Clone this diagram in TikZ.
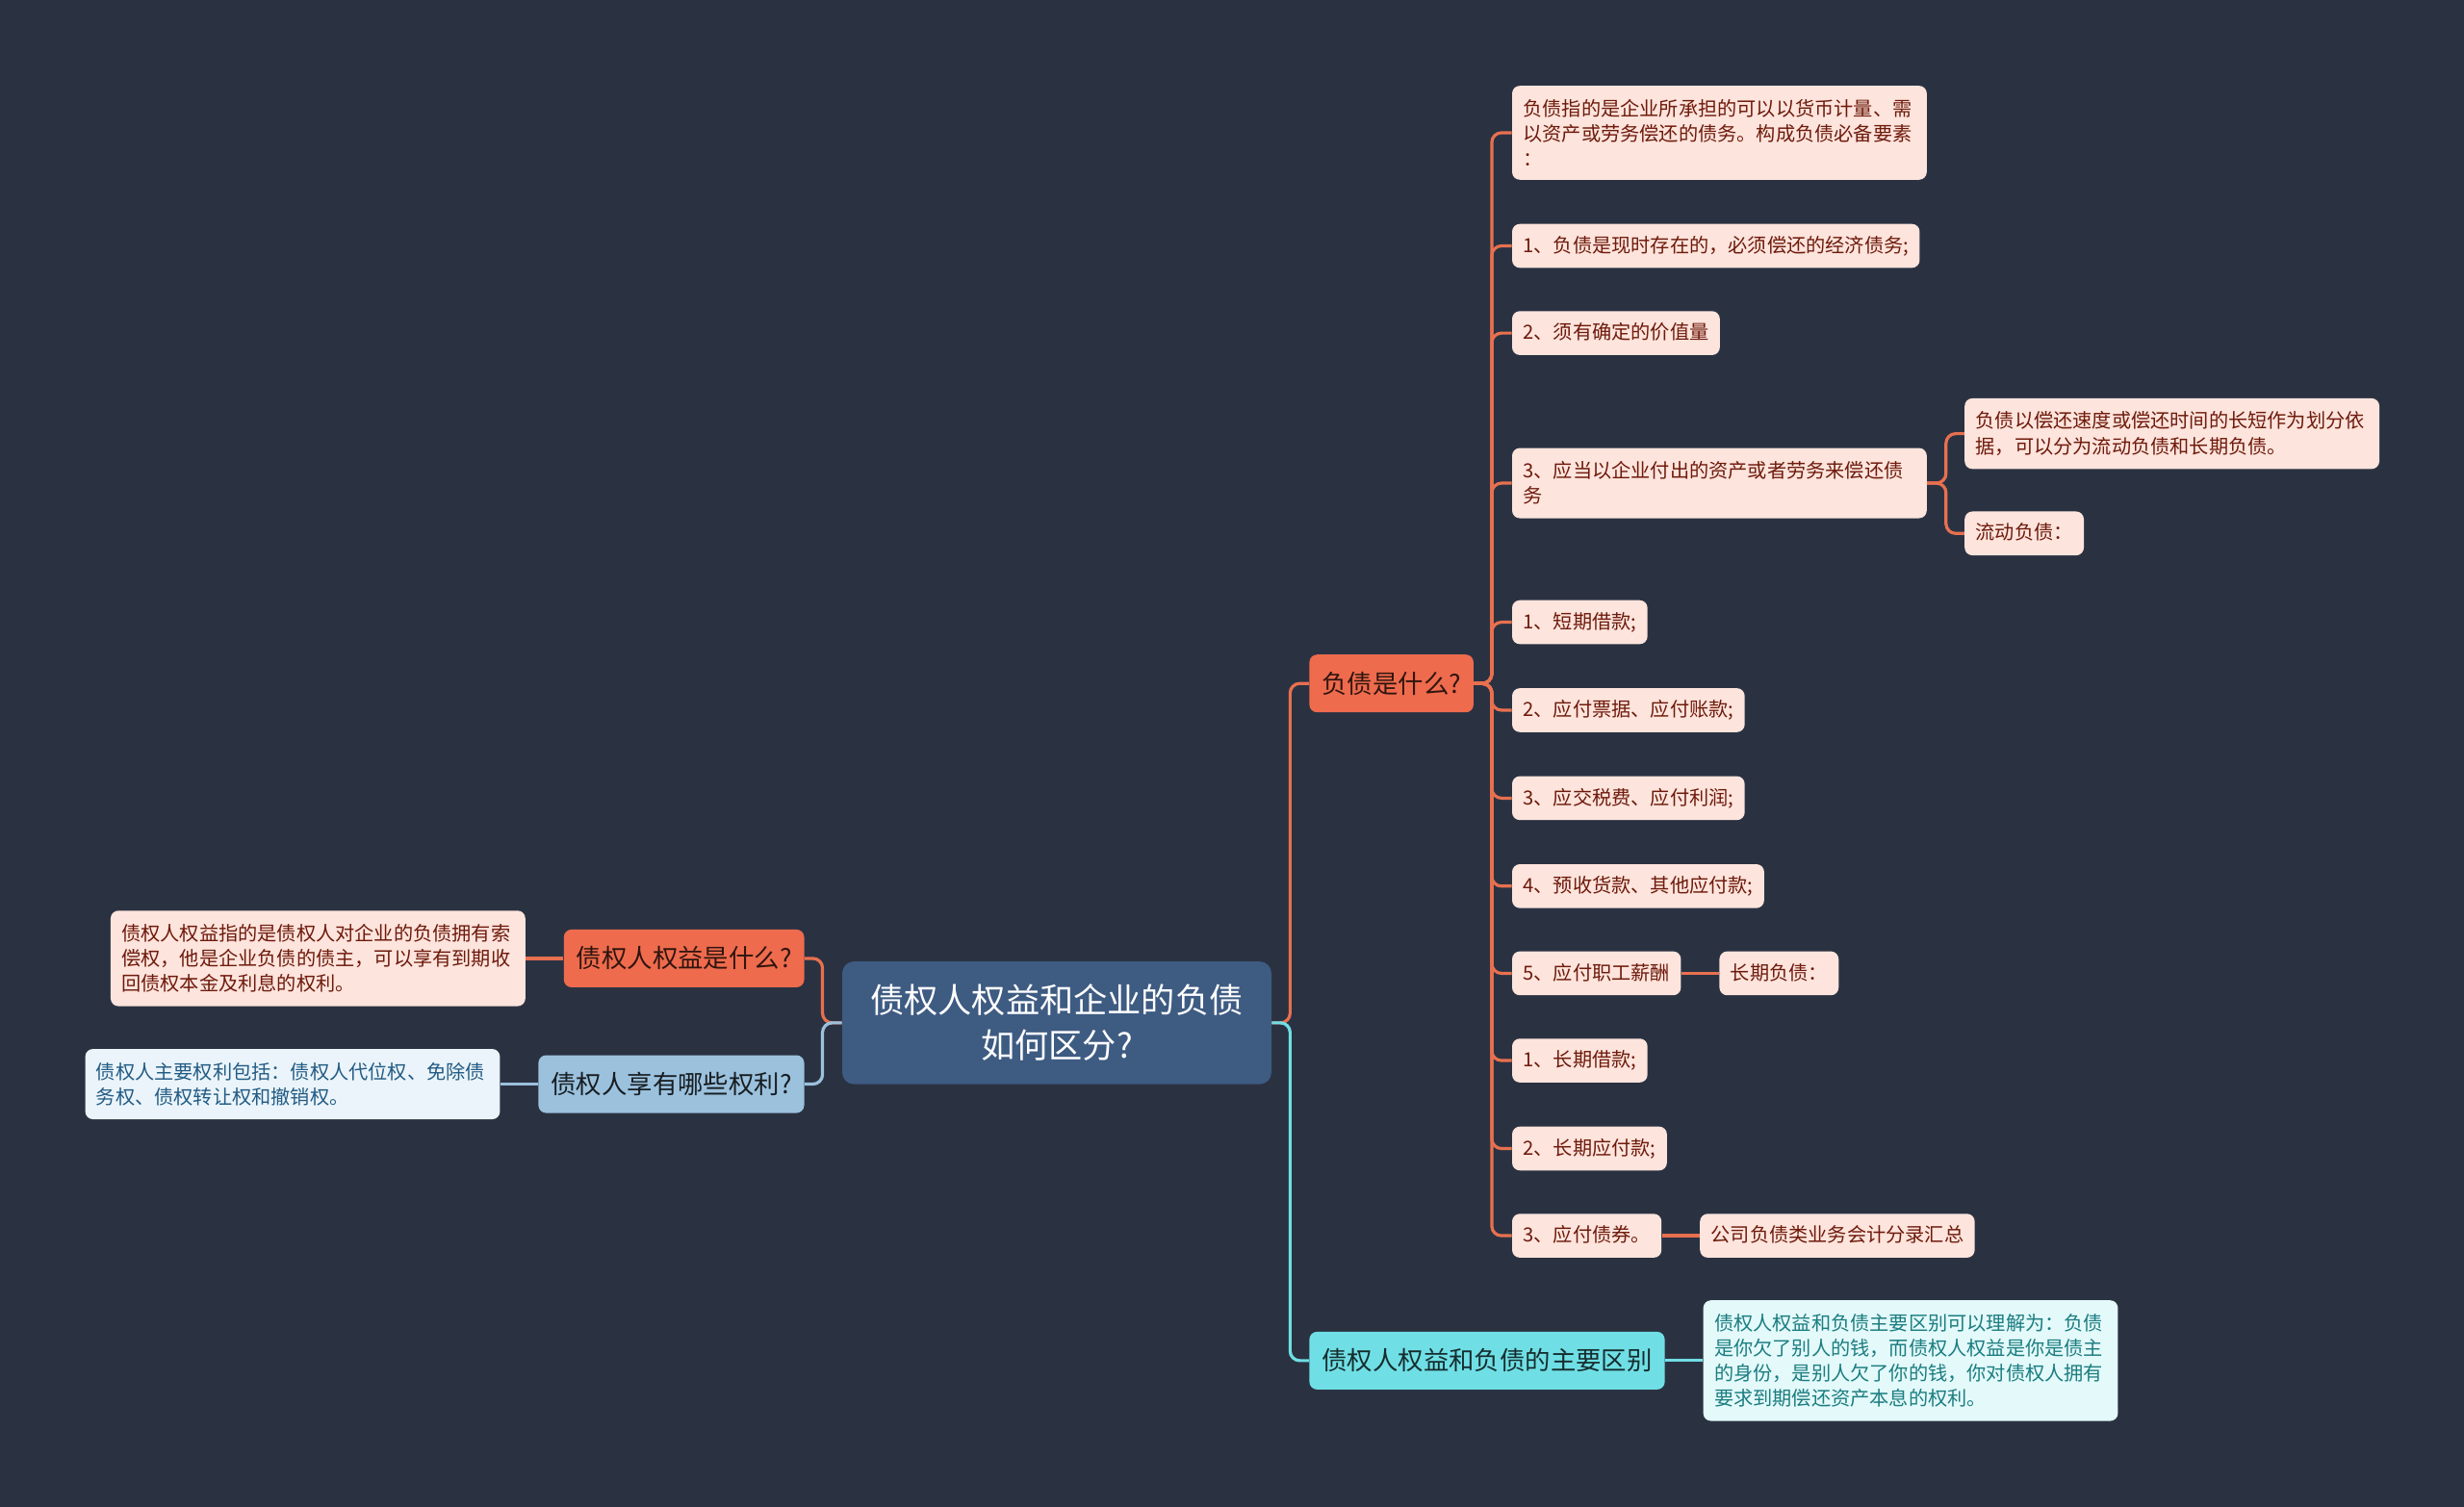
\documentclass[tikz,border=0pt]{standalone}
\usepackage{fontspec}
\usepackage{tikz}
\usepackage{xcolor}
\usetikzlibrary{positioning}
\newfontfamily\cjk{Noto Sans CJK SC}

\definecolor{bgdark}{HTML}{2A3242}
\definecolor{rootblue}{HTML}{3E5B82}
\definecolor{debtred}{HTML}{EE6B4D}
\definecolor{debtline}{HTML}{E8704F}
\definecolor{debtpale}{HTML}{FDE4DC}
\definecolor{debttext}{HTML}{6E1A0C}
\definecolor{rightblue}{HTML}{9BC1DD}
\definecolor{rightpale}{HTML}{EAF4FA}
\definecolor{righttext}{HTML}{235B84}
\definecolor{diffcyan}{HTML}{6FDFE5}
\definecolor{diffpale}{HTML}{E3F9FA}
\definecolor{difftext}{HTML}{1B7D80}

\begin{document}
\begin{tikzpicture}[x=0.8163pt, y=-0.8163pt, node distance=19.6pt,
    topic/.style={rounded corners=6pt, fill=rootblue, text=white, align=center,
        minimum width=222.9pt, minimum height=63.7pt, font=\cjk\fontsize{17.6pt}{23.5pt}\selectfont},
    branch/.style={rounded corners=4pt, minimum height=30pt, inner xsep=6.5pt,
        font=\cjk\fontsize{13.2pt}{16pt}\selectfont},
    leaf/.style={rounded corners=4pt, inner xsep=5.7pt, inner ysep=6.1pt,
        font=\cjk\fontsize{10.1pt}{13.1pt}\selectfont},
    oneline/.style={leaf, text height=8.6pt, text depth=2pt},
    para/.style={leaf, text width=204pt, align=left, inner ysep=7pt},
    redleaf/.style={fill=debtpale, text=debttext},
    link/.style={line width=1.6pt, rounded corners=5pt}]

    % Background
    \fill[bgdark] (0,0) rectangle (1568,959);
    \useasboundingbox (0,0) rectangle (1568,959);

    % Central topic
    \node[topic] (topic) at (672.5,651) {债权人权益和企业的负债\\如何区分?};

    % Left branches
    \node[branch, fill=debtred, text=black!80!debtred, anchor=east] (claim) at (512,610) {债权人权益是什么?};
    \node[branch, fill=rightblue, text=black!85!rightblue, anchor=east] (rights) at (512,690) {债权人享有哪些权利?};
    \node[para, redleaf, left=of claim] (claimtxt) {债权人权益指的是债权人对企业的负债拥有索\\偿权，他是企业负债的债主，可以享有到期收\\回债权本金及利息的权利。};
    \node[para, fill=rightpale, text=righttext, left=of rights] (rightstxt) {债权人主要权利包括：债权人代位权、免除债\\务权、债权转让权和撤销权。};

    % Right branches
    \node[branch, fill=debtred, text=black!80!debtred, anchor=west] (debt) at (833,435) {负债是什么?};
    \node[branch, fill=diffcyan, text=black!80!diffcyan, anchor=west] (diff) at (833,866) {债权人权益和负债的主要区别};
    \node[para, fill=diffpale, text=difftext, right=of diff] (difftxt) {债权人权益和负债主要区别可以理解为：负债\\是你欠了别人的钱，而债权人权益是你是债主\\的身份，是别人欠了你的钱，你对债权人拥有\\要求到期偿还资产本息的权利。};

    % What is debt
    \node[para, redleaf, anchor=west] (def) at (962,84.5) {负债指的是企业所承担的可以以货币计量、需\\以资产或劳务偿还的债务。构成负债必备要素\\：};
    \node[oneline, redleaf, anchor=west] (one) at (962,156.5) {1、负债是现时存在的，必须偿还的经济债务;};
    \node[oneline, redleaf, anchor=west] (two) at (962,212) {2、须有确定的价值量};
    \node[para, redleaf, anchor=west] (three) at (962,307.5) {3、应当以企业付出的资产或者劳务来偿还债\\务};
    \node[oneline, redleaf, anchor=west] (shortloan) at (962,396) {1、短期借款;};
    \node[oneline, redleaf, anchor=west] (notes) at (962,452) {2、应付票据、应付账款;};
    \node[oneline, redleaf, anchor=west] (taxes) at (962,508) {3、应交税费、应付利润;};
    \node[oneline, redleaf, anchor=west] (advance) at (962,564) {4、预收货款、其他应付款;};
    \node[oneline, redleaf, anchor=west] (wages) at (962,619.5) {5、应付职工薪酬};
    \node[oneline, redleaf, anchor=west] (longloan) at (962,675) {1、长期借款;};
    \node[oneline, redleaf, anchor=west] (longpay) at (962,731) {2、长期应付款;};
    \node[oneline, redleaf, anchor=west] (bonds) at (962,786.5) {3、应付债券。};

    \node[para, redleaf, anchor=west] (split) at (1250,276) {负债以偿还速度或偿还时间的长短作为划分依\\据，可以分为流动负债和长期负债。};
    \node[oneline, redleaf, anchor=west] (current) at (1250,339.5) {流动负债：};
    \node[oneline, redleaf, right=of wages] (longterm) {长期负债：};
    \node[oneline, redleaf, right=of bonds] (summary) {公司负债类业务会计分录汇总};

    % Connectors
    \draw[link, debtline] (topic.east) -- ++(11.7,0) |- (debt.west);
    \draw[link, diffcyan] (topic.east) -- ++(11.7,0) |- (diff.west);
    \draw[link, debtline] (topic.west) -- ++(-12.3,0) |- (claim.east);
    \draw[link, rightblue] (topic.west) -- ++(-12.3,0) |- (rights.east);
    \draw[link, debtline] (claim.west) -- (claimtxt.east);
    \draw[link, rightblue] (rights.west) -- (rightstxt.east);
    \draw[link, diffcyan] (diff.east) -- (difftxt.west);

    \draw[link, debtline] (debt.east) -- ++(11.4,0) |- (def.west);
    \draw[link, debtline] (debt.east) -- ++(11.4,0) |- (one.west);
    \draw[link, debtline] (debt.east) -- ++(11.4,0) |- (two.west);
    \draw[link, debtline] (debt.east) -- ++(11.4,0) |- (three.west);
    \draw[link, debtline] (debt.east) -- ++(11.4,0) |- (shortloan.west);
    \draw[link, debtline] (debt.east) -- ++(11.4,0) |- (notes.west);
    \draw[link, debtline] (debt.east) -- ++(11.4,0) |- (taxes.west);
    \draw[link, debtline] (debt.east) -- ++(11.4,0) |- (advance.west);
    \draw[link, debtline] (debt.east) -- ++(11.4,0) |- (wages.west);
    \draw[link, debtline] (debt.east) -- ++(11.4,0) |- (longloan.west);
    \draw[link, debtline] (debt.east) -- ++(11.4,0) |- (longpay.west);
    \draw[link, debtline] (debt.east) -- ++(11.4,0) |- (bonds.west);

    \draw[link, debtline] (three.east) -- ++(12,0) |- (split.west);
    \draw[link, debtline] (three.east) -- ++(12,0) |- (current.west);
    \draw[link, debtline] (wages.east) -- (longterm.west);
    \draw[link, debtline] (bonds.east) -- (summary.west);
\end{tikzpicture}
\end{document}
